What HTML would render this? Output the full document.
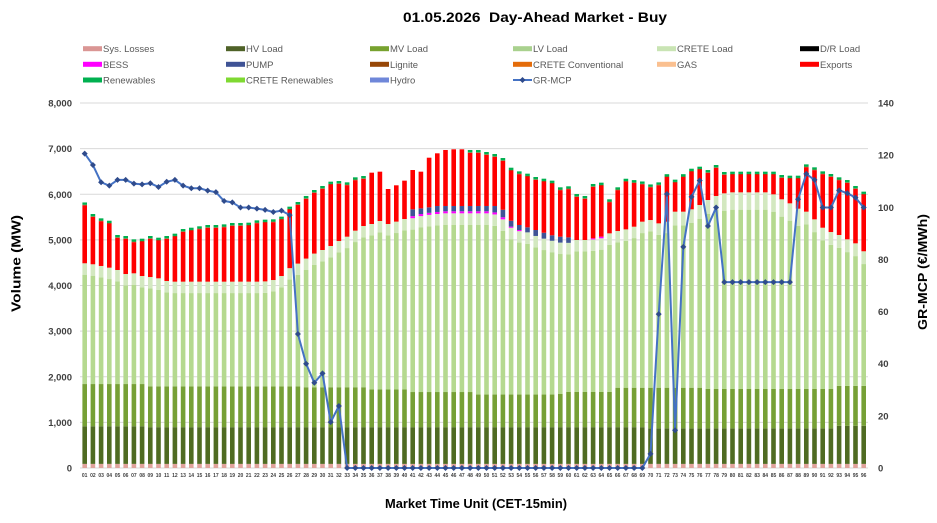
<!DOCTYPE html>
<html>
<head>
<meta charset="utf-8">
<style>
html,body{margin:0;padding:0;background:#fff;}
svg{display:block;}
text{font-family:"Liberation Sans",sans-serif;}
.tk{font-size:9.5px;font-weight:bold;fill:#404040;}
.xl{font-size:5px;font-weight:bold;fill:#404040;text-anchor:middle;}
.lg{font-size:9.5px;fill:#595959;}
</style>
</head>
<body>
<svg id="chart" width="937" height="523" viewBox="0 0 937 523" xmlns="http://www.w3.org/2000/svg">
<rect x="0" y="0" width="937" height="523" fill="#ffffff"/>
<!-- Title -->
<text x="403" y="22" font-size="14" font-weight="bold" fill="#000" textLength="264" lengthAdjust="spacingAndGlyphs" style="white-space:pre">01.05.2026  Day-Ahead Market - Buy</text>

<!-- Legend -->
<g>
<rect x="83" y="46.2" width="19" height="5" fill="#da9694"/><text class="lg" x="103" y="52">Sys. Losses</text>
<rect x="226" y="46.2" width="19" height="5" fill="#4f6228"/><text class="lg" x="246" y="52">HV Load</text>
<rect x="370" y="46.2" width="19" height="5" fill="#77a22f"/><text class="lg" x="390" y="52">MV Load</text>
<rect x="513" y="46.2" width="19" height="5" fill="#a9d18e"/><text class="lg" x="533" y="52">LV Load</text>
<rect x="657" y="46.2" width="19" height="5" fill="#c9e4b4"/><text class="lg" x="677" y="52">CRETE Load</text>
<rect x="800" y="46.2" width="19" height="5" fill="#000000"/><text class="lg" x="820" y="52">D/R Load</text>

<rect x="83" y="61.8" width="19" height="5" fill="#ff00ff"/><text class="lg" x="103" y="67.8">BESS</text>
<rect x="226" y="61.8" width="19" height="5" fill="#3f5395"/><text class="lg" x="246" y="67.8">PUMP</text>
<rect x="370" y="61.8" width="19" height="5" fill="#974706"/><text class="lg" x="390" y="67.8">Lignite</text>
<rect x="513" y="61.8" width="19" height="5" fill="#e46c0a"/><text class="lg" x="533" y="67.8">CRETE Conventional</text>
<rect x="657" y="61.8" width="19" height="5" fill="#fac090"/><text class="lg" x="677" y="67.8">GAS</text>
<rect x="800" y="61.8" width="19" height="5" fill="#ff0000"/><text class="lg" x="820" y="67.8">Exports</text>

<rect x="83" y="77.5" width="19" height="5" fill="#00b050"/><text class="lg" x="103" y="83.5">Renewables</text>
<rect x="226" y="77.5" width="19" height="5" fill="#7fd932"/><text class="lg" x="246" y="83.5">CRETE Renewables</text>
<rect x="370" y="77.5" width="19" height="5" fill="#6f87d9"/><text class="lg" x="390" y="83.5">Hydro</text>
<line x1="513" y1="80" x2="532" y2="80" stroke="#4472c4" stroke-width="2"/>
<path d="M522.5,77 L525.5,80 L522.5,83 L519.5,80 Z" fill="#2f4b8c"/>
<text class="lg" x="533" y="83.5">GR-MCP</text>
</g>

<!-- Gridlines -->
<g stroke="#d9d9d9" stroke-width="1">
<line x1="80" y1="103" x2="868" y2="103"/>
<line x1="80" y1="148.6" x2="868" y2="148.6"/>
<line x1="80" y1="194.25" x2="868" y2="194.25"/>
<line x1="80" y1="239.9" x2="868" y2="239.9"/>
<line x1="80" y1="285.5" x2="868" y2="285.5"/>
<line x1="80" y1="331.1" x2="868" y2="331.1"/>
<line x1="80" y1="376.75" x2="868" y2="376.75"/>
<line x1="80" y1="422.4" x2="868" y2="422.4"/>
<line x1="80" y1="468" x2="868" y2="468"/>
</g>

<!-- Left ticks -->
<g class="tk" text-anchor="end">
<text class="tk" x="72" y="106.5" text-anchor="end">8,000</text>
<text class="tk" x="72" y="152.1" text-anchor="end">7,000</text>
<text class="tk" x="72" y="197.8" text-anchor="end">6,000</text>
<text class="tk" x="72" y="243.4" text-anchor="end">5,000</text>
<text class="tk" x="72" y="289" text-anchor="end">4,000</text>
<text class="tk" x="72" y="334.6" text-anchor="end">3,000</text>
<text class="tk" x="72" y="380.3" text-anchor="end">2,000</text>
<text class="tk" x="72" y="425.9" text-anchor="end">1,000</text>
<text class="tk" x="72" y="471.5" text-anchor="end">0</text>
</g>
<!-- Right ticks -->
<g>
<text class="tk" x="878" y="106.5">140</text>
<text class="tk" x="878" y="158.7">120</text>
<text class="tk" x="878" y="210.8">100</text>
<text class="tk" x="878" y="262.9">80</text>
<text class="tk" x="878" y="315.1">60</text>
<text class="tk" x="878" y="367.2">40</text>
<text class="tk" x="878" y="419.4">20</text>
<text class="tk" x="878" y="471.5">0</text>
</g>

<!-- Axis titles -->
<text transform="translate(20.5,263.5) rotate(-90)" text-anchor="middle" font-size="13" font-weight="bold" fill="#000" textLength="97" lengthAdjust="spacingAndGlyphs">Volume (MW)</text>
<text transform="translate(927,272) rotate(-90)" text-anchor="middle" font-size="13" font-weight="bold" fill="#000" textLength="116" lengthAdjust="spacingAndGlyphs">GR-MCP (€/MWh)</text>
<text x="476" y="508" text-anchor="middle" font-size="13" font-weight="bold" fill="#000" textLength="182" lengthAdjust="spacingAndGlyphs">Market Time Unit (CET-15min)</text>

<g id="bars"></g>
<g id="line"></g>

<!-- X labels -->
<g>
<text class="xl" x="84.7" y="477">01</text><text class="xl" x="92.9" y="477">02</text><text class="xl" x="101.1" y="477">03</text><text class="xl" x="109.3" y="477">04</text><text class="xl" x="117.5" y="477">05</text><text class="xl" x="125.7" y="477">06</text><text class="xl" x="133.9" y="477">07</text><text class="xl" x="142.1" y="477">08</text><text class="xl" x="150.3" y="477">09</text><text class="xl" x="158.5" y="477">10</text>
<text class="xl" x="166.7" y="477">11</text><text class="xl" x="174.9" y="477">12</text><text class="xl" x="183.1" y="477">13</text><text class="xl" x="191.3" y="477">14</text><text class="xl" x="199.5" y="477">15</text><text class="xl" x="207.7" y="477">16</text><text class="xl" x="215.9" y="477">17</text><text class="xl" x="224.1" y="477">18</text><text class="xl" x="232.3" y="477">19</text><text class="xl" x="240.5" y="477">20</text>
<text class="xl" x="248.7" y="477">21</text><text class="xl" x="256.9" y="477">22</text><text class="xl" x="265.1" y="477">23</text><text class="xl" x="273.3" y="477">24</text><text class="xl" x="281.5" y="477">25</text><text class="xl" x="289.7" y="477">26</text><text class="xl" x="297.9" y="477">27</text><text class="xl" x="306.1" y="477">28</text><text class="xl" x="314.3" y="477">29</text><text class="xl" x="322.5" y="477">30</text>
<text class="xl" x="330.7" y="477">31</text><text class="xl" x="338.9" y="477">32</text><text class="xl" x="347.1" y="477">33</text><text class="xl" x="355.3" y="477">34</text><text class="xl" x="363.5" y="477">35</text><text class="xl" x="371.7" y="477">36</text><text class="xl" x="379.9" y="477">37</text><text class="xl" x="388.1" y="477">38</text><text class="xl" x="396.3" y="477">39</text><text class="xl" x="404.5" y="477">40</text>
<text class="xl" x="412.7" y="477">41</text><text class="xl" x="420.9" y="477">42</text><text class="xl" x="429.1" y="477">43</text><text class="xl" x="437.3" y="477">44</text><text class="xl" x="445.5" y="477">45</text><text class="xl" x="453.7" y="477">46</text><text class="xl" x="461.9" y="477">47</text><text class="xl" x="470.1" y="477">48</text><text class="xl" x="478.3" y="477">49</text><text class="xl" x="486.5" y="477">50</text>
<text class="xl" x="494.7" y="477">51</text><text class="xl" x="502.9" y="477">52</text><text class="xl" x="511.1" y="477">53</text><text class="xl" x="519.3" y="477">54</text><text class="xl" x="527.5" y="477">55</text><text class="xl" x="535.7" y="477">56</text><text class="xl" x="543.9" y="477">57</text><text class="xl" x="552.1" y="477">58</text><text class="xl" x="560.3" y="477">59</text><text class="xl" x="568.5" y="477">60</text>
<text class="xl" x="576.7" y="477">61</text><text class="xl" x="584.9" y="477">62</text><text class="xl" x="593.1" y="477">63</text><text class="xl" x="601.3" y="477">64</text><text class="xl" x="609.5" y="477">65</text><text class="xl" x="617.7" y="477">66</text><text class="xl" x="625.9" y="477">67</text><text class="xl" x="634.1" y="477">68</text><text class="xl" x="642.3" y="477">69</text><text class="xl" x="650.5" y="477">70</text>
<text class="xl" x="658.7" y="477">71</text><text class="xl" x="666.9" y="477">72</text><text class="xl" x="675.1" y="477">73</text><text class="xl" x="683.3" y="477">74</text><text class="xl" x="691.5" y="477">75</text><text class="xl" x="699.7" y="477">76</text><text class="xl" x="707.9" y="477">77</text><text class="xl" x="716.1" y="477">78</text><text class="xl" x="724.3" y="477">79</text><text class="xl" x="732.5" y="477">80</text>
<text class="xl" x="740.7" y="477">81</text><text class="xl" x="748.9" y="477">82</text><text class="xl" x="757.1" y="477">83</text><text class="xl" x="765.3" y="477">84</text><text class="xl" x="773.5" y="477">85</text><text class="xl" x="781.7" y="477">86</text><text class="xl" x="789.9" y="477">87</text><text class="xl" x="798.1" y="477">88</text><text class="xl" x="806.3" y="477">89</text><text class="xl" x="814.5" y="477">90</text>
<text class="xl" x="822.7" y="477">91</text><text class="xl" x="830.9" y="477">92</text><text class="xl" x="839.1" y="477">93</text><text class="xl" x="847.3" y="477">94</text><text class="xl" x="855.5" y="477">95</text><text class="xl" x="863.7" y="477">96</text>
</g>
</svg>
<script>
(function(){
var T=[5820,5567,5472,5420,5107,5085,5012,5026,5085,5048,
5085,5136,5238,5267,5297,5326,5326,5340,5370,5370,
5377,5428,5443,5450,5509,5728,5830,5962,6093,6181,
6276,6290,6261,6371,6400,6473,6495,6115,6196,6298,
6531,6495,6801,6897,6970,6985,6985,6970,6970,6926,
6882,6794,6582,6502,6451,6378,6341,6298,6152,6174,
6005,5962,6225,6254,5889,6152,6340,6310,6280,6215,
6260,6440,6320,6440,6560,6604,6531,6641,6488,6495,
6495,6495,6495,6495,6495,6422,6407,6407,6655,6590,
6502,6444,6371,6312,6181,6057];
var RB=[4487,4465,4428,4391,4340,4252,4267,4208,4186,4157,
4099,4084,4084,4084,4084,4084,4084,4084,4084,4084,
4084,4084,4090,4120,4208,4380,4480,4590,4700,4778,
4866,4975,5070,5202,5304,5348,5414,5348,5400,5457,
5670,5691,5713,5742,5742,5742,5742,5742,5742,5742,
5742,5660,5420,5326,5275,5216,5157,5100,5070,5055,
4997,4997,5034,5070,5143,5194,5230,5289,5399,5435,
5362,5399,5618,5618,5670,5764,5874,5962,6020,6042,
6042,6042,6042,6042,5998,5889,5801,5684,5618,5450,
5267,5172,5107,5012,4924,4750];
var MCP=[120.6,116.2,109.6,108.3,110.5,110.5,109.1,108.8,109.2,107.8,
109.8,110.5,108.3,107.3,107.3,106.4,105.8,102.4,101.9,99.9,
99.9,99.5,99.0,98.2,98.7,97.0,51.4,40.0,32.7,36.3,
17.6,23.8,0,0,0,0,0,0,0,0,
0,0,0,0,0,0,0,0,0,0,
0,0,0,0,0,0,0,0,0,0,
0,0,0,0,0,0,0,0,0,5.4,
59,105.1,14.5,84.8,104,110.3,92.8,99.9,71.3,71.3,
71.3,71.3,71.3,71.3,71.3,71.3,71.3,103.1,112.8,110.5,
99.9,99.9,106.5,105.4,103.7,99.9];
var pumpArr=[150,125,120,130,115,115,115,115,115,115,140,165,130,110,110,130,130,120,130,120];
function Y(v){return 468-v*0.045625;}
var s='';
function rect(x,a,b,fill){ if(b<=a) return; var y1=Y(b), y0=Y(a);
 s+='<rect x="'+x.toFixed(2)+'" y="'+y1.toFixed(2)+'" width="4.6" height="'+(y0-y1).toFixed(2)+'" fill="'+fill+'"/>';}
for(var i=0;i<96;i++){
 var n=i+1, cx=84.7+8.2*i, x=cx-2.3;
 var loss=90;
 var hv = n<=8?915:(n<=69?895:(n<=92?870:925));
 var mv;
 if(n<=8) mv=1840; else if(n<=27) mv=1790; else if(n<=35) mv=1770; else if(n<=40) mv=1720;
 else if(n<=48) mv=1665; else if(n<=58) mv=1610; else if(n<=59) mv=1622; else if(n<=65) mv=1666;
 else if(n<=76) mv=1760; else if(n<=92) mv=1732; else mv=1800;
 var pump=(n>=41&&n<=60)?pumpArr[n-41]:0;
 var bess=0;
 if(n>=41&&n<=52) bess=45; else if(n==53||n==54) bess=25; else if(n==63) bess=25; else if(n==64) bess=35;
 var crete = n<=72?250:(n<=78?300:(n<=88?380:280));
 var rb=RB[i];
 var creteTop=rb-pump-bess;
 var lvTop=creteTop-crete;
 var strip=!(n>=36&&n<=47);
 var redTop= strip? T[i]-62 : T[i];
 rect(x,0,loss,'#e0a39c');
 rect(x,loss,hv,'#4f6b22');
 rect(x,hv,mv,'#76a035');
 rect(x,mv,lvTop,'#b5d98f');
 rect(x,lvTop,creteTop,'#d3e8c0');
 rect(x,creteTop,creteTop+bess,'#ff00ff');
 rect(x,creteTop+bess,rb,'#3f5395');
 rect(x,rb,redTop,'#ff0000');
 if(strip){ rect(x,redTop,redTop+12,'#7a5a10'); rect(x,redTop+12,T[i],'#00b050'); }
}
document.getElementById('bars').innerHTML=s;
var pts=[], m='';
for(var j=0;j<96;j++){
 var px=84.7+8.2*j, py=468-MCP[j]*2.6071;
 pts.push(px.toFixed(2)+','+py.toFixed(2));
 m+='<path d="M'+px.toFixed(2)+','+(py-3).toFixed(2)+' L'+(px+3).toFixed(2)+','+py.toFixed(2)+' L'+px.toFixed(2)+','+(py+3).toFixed(2)+' L'+(px-3).toFixed(2)+','+py.toFixed(2)+' Z" fill="#2f4b8c"/>';
}
document.getElementById('line').innerHTML='<polyline points="'+pts.join(' ')+'" fill="none" stroke="#4472c4" stroke-width="2" stroke-linejoin="round"/>'+m;
})();
</script>
</body>
</html>
